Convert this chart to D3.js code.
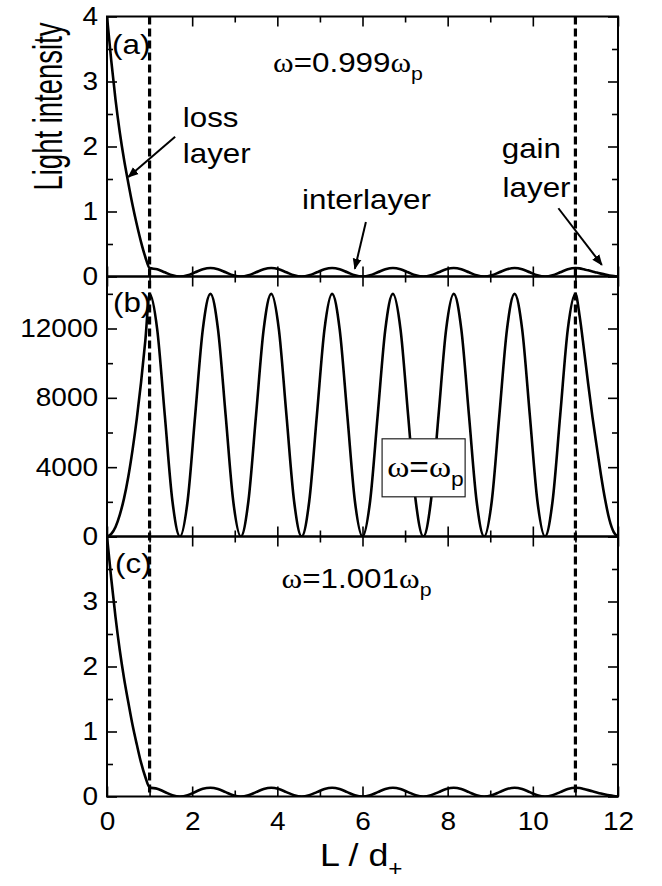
<!DOCTYPE html>
<html><head><meta charset="utf-8">
<script src="https://cdn.jsdelivr.net/npm/d3@7"></script>
<style>
body{margin:0;background:#fff}
svg{display:block}
text{font-family:"Liberation Sans",Arial,Helvetica,sans-serif;fill:#000}
</style>
</head><body>
<svg id="chart" width="662" height="886"></svg>
<script>
// ---------------- data ----------------
const xMajor = [0, 2, 4, 6, 8, 10, 12];
const xMinor = [1, 3, 5, 7, 9, 11];
const yMajorA = [0, 1, 2, 3, 4];
const yMinorA = [0.5, 1.5, 2.5, 3.5];
const yLabelsA = [0, 1, 2, 3, 4];
const yMajorB = [0, 4000, 8000, 12000];
const yMinorB = [2000, 6000, 10000, 14000];
const yLabelsB = [0, 4000, 8000, 12000];
const yMajorC = [0, 1, 2, 3, 4];
const yMinorC = [0.5, 1.5, 2.5, 3.5];
const yLabelsC = [0, 1, 2, 3];
const layerBounds = [1, 11];

// loss layer (0..1)
const xLoss = [0, 0.1, 0.2, 0.3, 0.4, 0.5, 0.6, 0.7, 0.8, 0.9, 1.0];
const lossA = [4.0, 3.32, 2.72, 2.22, 1.80, 1.44, 1.10, 0.80, 0.53, 0.30, 0.13];
const lossB = [0, 150, 550, 1250, 2200, 3450, 5000, 6800, 8900, 11300, 14000];
const lossC = [4.0, 3.35, 2.76, 2.25, 1.82, 1.45, 1.10, 0.80, 0.52, 0.30, 0.14];

// interlayer (1..11)
const xInter = [1.000, 1.179, 1.357, 1.536, 1.714, 1.893, 2.071, 2.250,
  2.429, 2.607, 2.786, 2.964, 3.143, 3.321, 3.500, 3.679,
  3.857, 4.036, 4.214, 4.393, 4.571, 4.750, 4.929, 5.107,
  5.286, 5.464, 5.643, 5.821, 6.000, 6.179, 6.357, 6.536,
  6.714, 6.893, 7.071, 7.250, 7.429, 7.607, 7.786, 7.964,
  8.143, 8.321, 8.500, 8.679, 8.857, 9.036, 9.214, 9.393,
  9.571, 9.750, 9.929, 10.107, 10.286, 10.464, 10.643, 10.821, 11.000];
const interA = [0.13, 0.111, 0.065, 0.019, 0, 0.019, 0.065, 0.111,
  0.13, 0.111, 0.065, 0.019, 0, 0.019, 0.065, 0.111,
  0.13, 0.111, 0.065, 0.019, 0, 0.019, 0.065, 0.111,
  0.13, 0.111, 0.065, 0.019, 0, 0.019, 0.065, 0.111,
  0.13, 0.111, 0.065, 0.019, 0, 0.019, 0.065, 0.111,
  0.13, 0.111, 0.065, 0.019, 0, 0.019, 0.065, 0.111,
  0.13, 0.111, 0.065, 0.019, 0, 0.019, 0.065, 0.111, 0.13];
const interB = [14000, 11950, 7000, 2050, 0, 2050, 7000, 11950,
  14000, 11950, 7000, 2050, 0, 2050, 7000, 11950,
  14000, 11950, 7000, 2050, 0, 2050, 7000, 11950,
  14000, 11950, 7000, 2050, 0, 2050, 7000, 11950,
  14000, 11950, 7000, 2050, 0, 2050, 7000, 11950,
  14000, 11950, 7000, 2050, 0, 2050, 7000, 11950,
  14000, 11950, 7000, 2050, 0, 2050, 7000, 11950, 14000];
const interC = [0.14, 0.12, 0.07, 0.02, 0, 0.02, 0.07, 0.12,
  0.135, 0.115, 0.067, 0.02, 0, 0.02, 0.067, 0.115,
  0.135, 0.115, 0.067, 0.02, 0, 0.02, 0.067, 0.115,
  0.135, 0.115, 0.067, 0.02, 0, 0.02, 0.067, 0.115,
  0.135, 0.115, 0.067, 0.02, 0, 0.02, 0.067, 0.115,
  0.135, 0.115, 0.067, 0.02, 0, 0.02, 0.067, 0.115,
  0.135, 0.115, 0.067, 0.02, 0, 0.02, 0.067, 0.115, 0.135];

// gain layer (11..12)
const xGain = [11.0, 11.1, 11.2, 11.3, 11.4, 11.5, 11.6, 11.7, 11.8, 11.9, 12.0];
const gainA = [0.13, 0.125, 0.11, 0.095, 0.078, 0.06, 0.044, 0.029, 0.016, 0.006, 0.0];
const gainB = [14000, 12700, 10800, 8800, 6900, 5200, 3550, 2100, 950, 250, 0];
const gainC = [0.135, 0.13, 0.115, 0.098, 0.08, 0.062, 0.045, 0.03, 0.017, 0.007, 0.0];

// ---------------- layout ----------------
const svg = d3.select("#chart");
const L = 107, R = 618, T = 16.5, PH = 260;
const SX = 1.12; // horizontal text stretch
const x = d3.scaleLinear().domain([0, 12]).range([L, R]);

function joinSeries(a, b, c) {
  const pts = [];
  xLoss.forEach((v, i) => pts.push([v, a[i]]));
  xInter.forEach((v, i) => { if (i > 0) pts.push([v, b[i]]); });
  xGain.forEach((v, i) => { if (i > 0) pts.push([v, c[i]]); });
  return pts;
}

const panels = [
  {key: "a", dom: [0, 4], major: yMajorA, minor: yMinorA, labels: yLabelsA,
   data: joinSeries(lossA, interA, gainA)},
  {key: "b", dom: [0, 15000], major: yMajorB, minor: yMinorB, labels: yLabelsB,
   data: joinSeries(lossB, interB, gainB)},
  {key: "c", dom: [0, 4], major: yMajorC, minor: yMinorC, labels: yLabelsC,
   data: joinSeries(lossC, interC, gainC)}
];

const defs = svg.append("defs");
defs.append("marker").attr("id", "arr").attr("viewBox", "0 0 10 10")
  .attr("refX", 9).attr("refY", 5).attr("markerWidth", 5.5).attr("markerHeight", 5.5)
  .attr("orient", "auto").attr("markerUnits", "strokeWidth")
  .append("path").attr("d", "M0,1 L10,5 L0,9 z").attr("fill", "#000");

function styleAxis(g, size) {
  g.select(".domain").remove();
  g.selectAll(".tick line").attr("stroke", "#000").attr("stroke-width", 1.6);
  g.selectAll("text").attr("font-size", size)
    .attr("font-family", '"Liberation Sans",Arial,sans-serif').attr("fill", "#000");
}

panels.forEach((p, i) => {
  const y0 = T + i * PH;
  const y = d3.scaleLinear().domain(p.dom).range([y0 + PH, y0]);
  p.y = y;
  const g = svg.append("g");
  defs.append("clipPath").attr("id", "clip" + p.key)
    .append("rect").attr("x", L).attr("y", y0).attr("width", R - L).attr("height", PH);

  // curve
  g.append("path").datum(p.data)
    .attr("clip-path", `url(#clip${p.key})`)
    .attr("fill", "none").attr("stroke", "#000").attr("stroke-width", 2.6)
    .attr("d", d3.line().x(d => x(d[0])).y(d => y(d[1])).curve(d3.curveMonotoneX));

  // x ticks bottom & top
  const xb = g.append("g").attr("transform", `translate(0,${y0 + PH})`)
    .call(d3.axisBottom(x).tickValues(xMajor).tickSize(-10).tickFormat(i === 2 ? d3.format("d") : () => ""));
  styleAxis(xb, 25);
  xb.selectAll("text").attr("y", 16).attr("dy", "0.71em").attr("transform", `scale(${SX},1)`);
  styleAxis(g.append("g").attr("transform", `translate(0,${y0 + PH})`)
    .call(d3.axisBottom(x).tickValues(xMinor).tickSize(-6).tickFormat(() => "")), 10);
  styleAxis(g.append("g").attr("transform", `translate(0,${y0})`)
    .call(d3.axisTop(x).tickValues(xMajor).tickSize(-10).tickFormat(() => "")), 10);
  styleAxis(g.append("g").attr("transform", `translate(0,${y0})`)
    .call(d3.axisTop(x).tickValues(xMinor).tickSize(-6).tickFormat(() => "")), 10);

  // y ticks left & right
  const yl = g.append("g").attr("transform", `translate(${L},0)`)
    .call(d3.axisLeft(y).tickValues(p.major).tickSize(-10)
      .tickFormat(d => p.labels.includes(d) ? d3.format("d")(d) : ""));
  styleAxis(yl, 25);
  yl.selectAll("text").attr("x", -8).attr("transform", `scale(${SX},1)`);
  styleAxis(g.append("g").attr("transform", `translate(${L},0)`)
    .call(d3.axisLeft(y).tickValues(p.minor).tickSize(-6).tickFormat(() => "")), 10);
  styleAxis(g.append("g").attr("transform", `translate(${R},0)`)
    .call(d3.axisRight(y).tickValues(p.major).tickSize(-10).tickFormat(() => "")), 10);
  styleAxis(g.append("g").attr("transform", `translate(${R},0)`)
    .call(d3.axisRight(y).tickValues(p.minor).tickSize(-6).tickFormat(() => "")), 10);

  // frame
  g.append("rect").attr("x", L).attr("y", y0).attr("width", R - L).attr("height", PH)
    .attr("fill", "none").attr("stroke", "#000").attr("stroke-width", 2);
});

// dashed layer boundaries
svg.selectAll(".bound").data(layerBounds).enter().append("line")
  .attr("x1", d => x(d)).attr("x2", d => x(d))
  .attr("y1", T).attr("y2", T + 3 * PH)
  .attr("stroke", "#000").attr("stroke-width", 3.2).attr("stroke-dasharray", "8,4");

// ---------- text helpers ----------
function label(px, py, size, parts) {
  const t = svg.append("text").attr("transform", `translate(${px},${py}) scale(${SX},1)`)
    .attr("font-size", size);
  parts.forEach(pt => {
    const s = t.append("tspan").text(pt.t);
    if (pt.serif) s.attr("font-family", '"Liberation Serif","Times New Roman",serif');
    if (pt.sub) s.attr("font-size", size * 0.68).attr("dy", size * 0.3);
  });
  return t;
}
function arrow(x1, y1, x2, y2) {
  svg.append("line").attr("x1", x1).attr("y1", y1).attr("x2", x2).attr("y2", y2)
    .attr("stroke", "#000").attr("stroke-width", 2).attr("marker-end", "url(#arr)");
}
const yA = panels[0].y, yB = panels[1].y, yC = panels[2].y;

// panel (a)
label(x(0.12), yA(3.42), 28, [{t: "(a)"}]);
label(x(3.9), yA(3.15), 28, [{t: "ω", serif: true}, {t: "=0.999"}, {t: "ω", serif: true}, {t: "p", sub: true}]);
label(x(1.78), yA(2.30), 28, [{t: "loss"}]);
label(x(1.78), yA(1.74), 28, [{t: "layer"}]);
arrow(x(1.60), yA(2.15), x(0.5), yA(1.53));
label(x(4.58), yA(1.04), 28, [{t: "interlayer"}]);
arrow(x(6.08), yA(0.84), x(5.82), yA(0.12));
label(x(9.27), yA(1.82), 28, [{t: "gain"}]);
label(x(9.29), yA(1.23), 28, [{t: "layer"}]);
arrow(x(10.6), yA(1.05), x(11.62), yA(0.18));

// panel (b)
label(x(0.14), yB(12960), 28, [{t: "(b)"}]);
svg.append("rect").attr("x", x(6.46)).attr("y", yB(5636))
  .attr("width", x(8.41) - x(6.46)).attr("height", yB(2290) - yB(5636))
  .attr("fill", "#fff").attr("stroke", "#222").attr("stroke-width", 1.2);
label(x(6.58), yB(3460), 30, [{t: "ω", serif: true}, {t: "="}, {t: "ω", serif: true}, {t: "p", sub: true}]);

// panel (c)
label(x(0.19), yC(3.44), 28, [{t: "(c)"}]);
label(x(4.1), yC(3.21), 28, [{t: "ω", serif: true}, {t: "=1.001"}, {t: "ω", serif: true}, {t: "p", sub: true}]);

// axis titles
label(x(5.0), 866, 32, [{t: "L / d"}, {t: "+", sub: true}]);
svg.append("text").attr("transform", `translate(62,106.5) scale(1.5,1) rotate(-90)`)
  .attr("text-anchor", "middle").attr("font-size", 27.5)
  .text("Light intensity");
</script>
</body></html>
